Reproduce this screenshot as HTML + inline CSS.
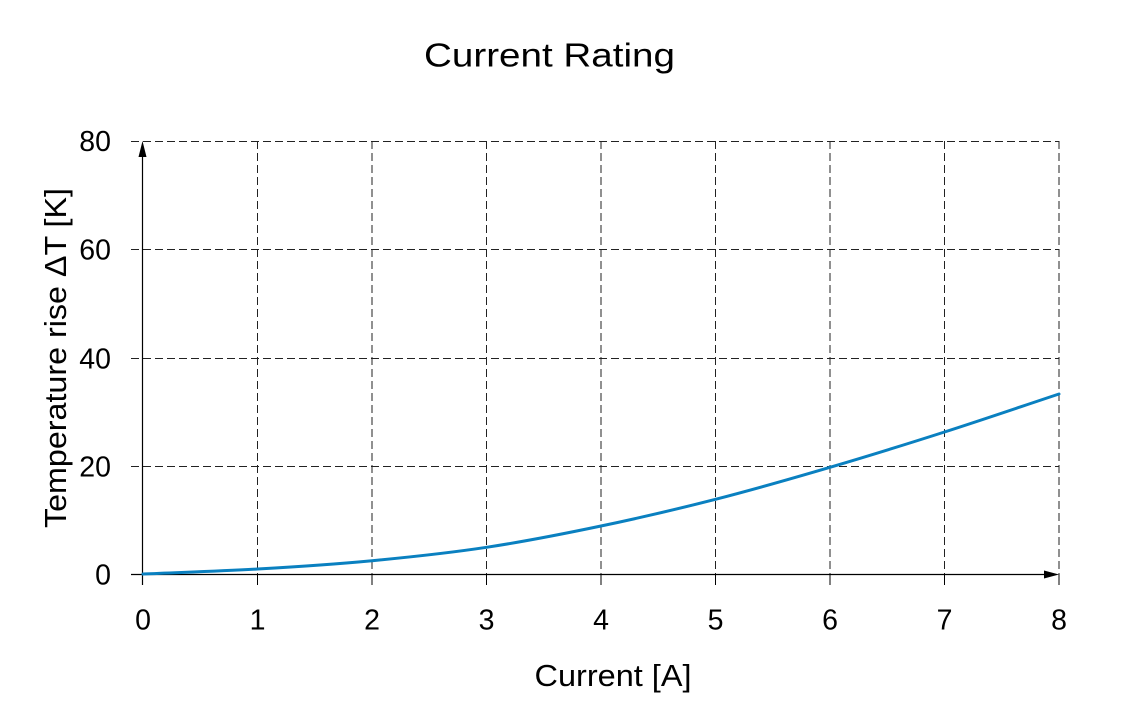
<!DOCTYPE html>
<html>
<head>
<meta charset="utf-8">
<style>
  html, body { margin: 0; padding: 0; background: #ffffff; }
  svg { display: block; }
  text { font-family: "Liberation Sans", "DejaVu Sans", sans-serif; fill: #000; }
</style>
</head>
<body>
<svg width="1123" height="724" viewBox="0 0 1123 724" xmlns="http://www.w3.org/2000/svg">
  <rect x="0" y="0" width="1123" height="724" fill="#ffffff"/>

  <!-- Title -->
  <text x="549.5" y="66.5" font-size="33" text-anchor="middle" textLength="251" lengthAdjust="spacingAndGlyphs">Current Rating</text>

  <!-- Horizontal dashed gridlines -->
  <g stroke="#222" stroke-width="1" stroke-dasharray="8,4" fill="none">
    <line x1="131" y1="141.5" x2="1059" y2="141.5"/>
    <line x1="131" y1="249.5" x2="1059" y2="249.5"/>
    <line x1="131" y1="358.5" x2="1059" y2="358.5"/>
    <line x1="131" y1="466.5" x2="1059" y2="466.5"/>
  </g>
  <!-- Vertical dashed gridlines -->
  <g stroke="#222" stroke-width="1" stroke-dasharray="8,4" fill="none">
    <line x1="257.5" y1="141" x2="257.5" y2="574"/>
    <line x1="372" y1="141" x2="372" y2="574"/>
    <line x1="486.5" y1="141" x2="486.5" y2="574"/>
    <line x1="601" y1="141" x2="601" y2="574"/>
    <line x1="715.5" y1="141" x2="715.5" y2="574"/>
    <line x1="830" y1="141" x2="830" y2="574"/>
    <line x1="944.5" y1="141" x2="944.5" y2="574"/>
    <line x1="1059" y1="141" x2="1059" y2="574"/>
  </g>

  <!-- Ticks -->
  <g stroke="#000" stroke-width="1" fill="none">
    <line x1="142.5" y1="574" x2="142.5" y2="585"/>
    <line x1="257.5" y1="574" x2="257.5" y2="585"/>
    <line x1="372" y1="574" x2="372" y2="585"/>
    <line x1="486.5" y1="574" x2="486.5" y2="585"/>
    <line x1="601" y1="574" x2="601" y2="585"/>
    <line x1="715.5" y1="574" x2="715.5" y2="585"/>
    <line x1="830" y1="574" x2="830" y2="585"/>
    <line x1="944.5" y1="574" x2="944.5" y2="585"/>
    <line x1="1059" y1="574" x2="1059" y2="585"/>
    <line x1="131" y1="574.5" x2="143" y2="574.5"/>
  </g>

  <!-- Axes -->
  <g stroke="#000" stroke-width="1.2" fill="none">
    <line x1="142.5" y1="585" x2="142.5" y2="150"/>
    <line x1="131" y1="574.5" x2="1050" y2="574.5"/>
  </g>
  <polygon points="142.5,141 138.5,157 146.5,157" fill="#000"/>
  <polygon points="1059,574.5 1044,570.5 1044,578.5" fill="#000"/>

  <!-- Curve -->
  <path d="M143,574 C181.17,572.33 219.33,571.22 257.5,569 C295.67,566.78 333.83,564.32 372,560.7 C410.17,557.08 448.33,553.08 486.5,547.3 C524.67,541.52 562.83,534 601,526 C639.17,518 677.33,509.08 715.5,499.3 C753.67,489.52 791.83,478.52 830,467.3 C868.17,456.08 906.33,444.22 944.5,432 C982.67,419.78 1020.83,406.67 1059,394"
        fill="none" stroke="#0a80c0" stroke-width="3" stroke-linecap="round"/>

  <!-- Y tick labels -->
  <g font-size="28.5" text-anchor="end">
    <text x="111" y="151">80</text>
    <text x="111" y="259.5">60</text>
    <text x="111" y="368.5">40</text>
    <text x="111" y="476.5">20</text>
    <text x="111" y="584.5">0</text>
  </g>

  <!-- X tick labels -->
  <g font-size="28.5" text-anchor="middle">
    <text x="143" y="629.5">0</text>
    <text x="257.5" y="629.5">1</text>
    <text x="372" y="629.5">2</text>
    <text x="486.5" y="629.5">3</text>
    <text x="601" y="629.5">4</text>
    <text x="715.5" y="629.5">5</text>
    <text x="830" y="629.5">6</text>
    <text x="944.5" y="629.5">7</text>
    <text x="1059" y="629.5">8</text>
  </g>

  <!-- Axis labels -->
  <text x="613" y="686" font-size="31" text-anchor="middle" textLength="157" lengthAdjust="spacingAndGlyphs">Current [A]</text>
  <text transform="translate(66,358) rotate(-90)" x="0" y="0" font-size="31" text-anchor="middle" textLength="340" lengthAdjust="spacingAndGlyphs">Temperature rise ΔT [K]</text>
</svg>
</body>
</html>
